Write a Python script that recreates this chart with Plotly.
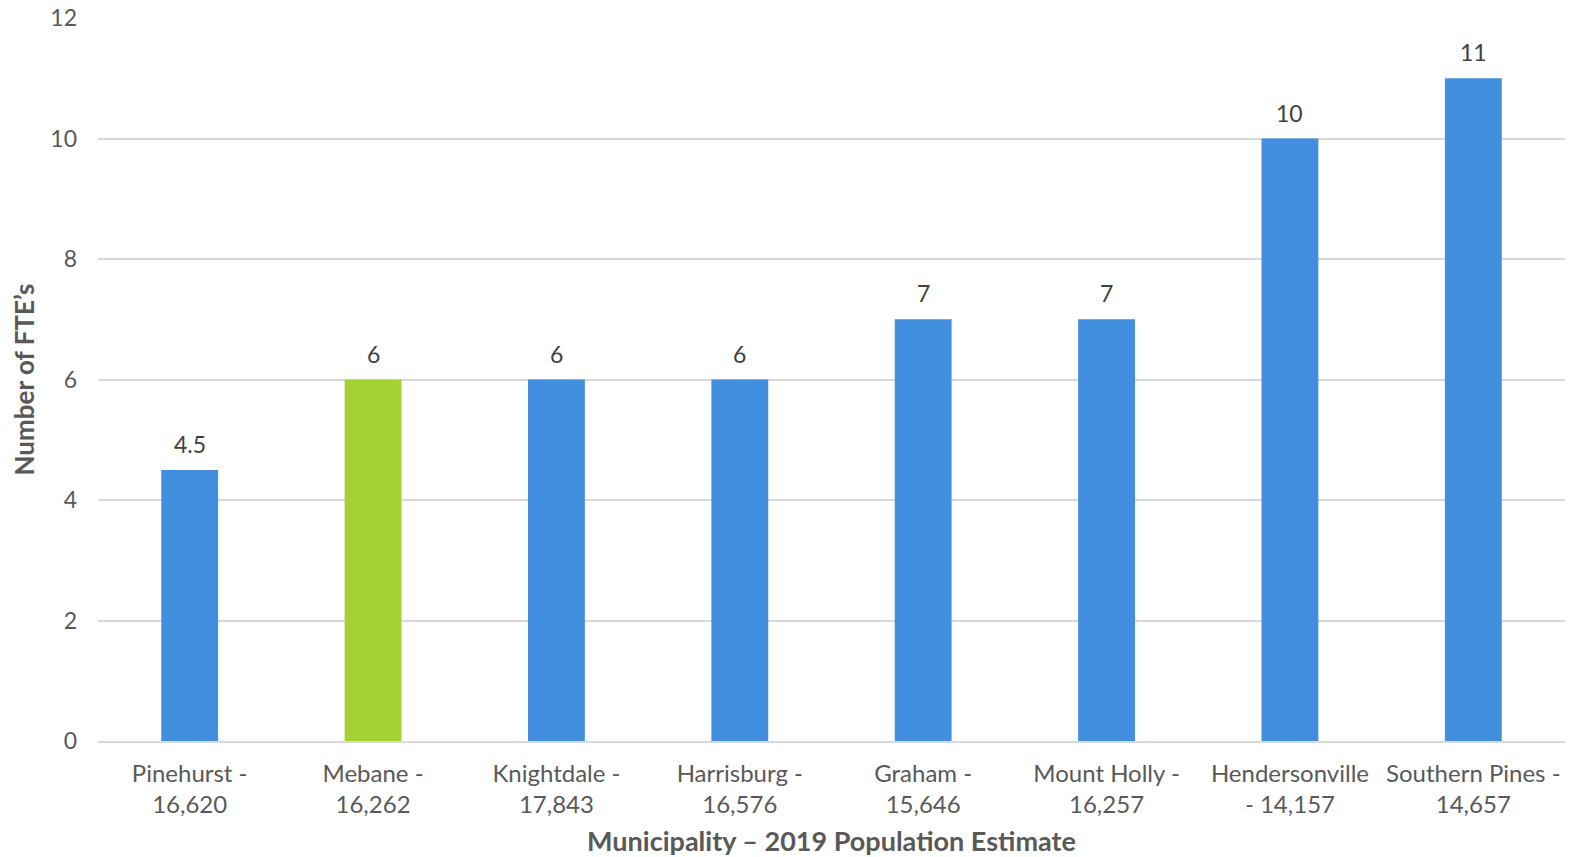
import plotly.graph_objects as go

# Municipalities with their 2019 population estimates and staffing levels
municipalities = ["Pinehurst -<br>16,620", "Mebane -<br>16,262", "Knightdale -<br>17,843",
                  "Harrisburg -<br>16,576", "Graham -<br>15,646", "Mount Holly -<br>16,257",
                  "Hendersonville<br>- 14,157", "Southern Pines -<br>14,657"]
fte_counts = [4.5, 6, 6, 6, 7, 7, 10, 11]
value_labels = ["4.5", "6", "6", "6", "7", "7", "10", "11"]
highlight = "Mebane -<br>16,262"

BLUE = "#418FDE"
GREEN = "#A5D233"
bar_colors = [GREEN if m == highlight else BLUE for m in municipalities]

FONT = "Lato, 'Open Sans', sans-serif"

fig = go.Figure(
    go.Bar(
        x=municipalities,
        y=fte_counts,
        marker=dict(color=bar_colors, line=dict(width=0)),
        hoverinfo="x+y",
    )
)

# Value labels sit above each bar
for m, v, t in zip(municipalities, fte_counts, value_labels):
    fig.add_annotation(
        x=m, y=v, text=t, showarrow=False, yanchor="bottom", yshift=10,
        font=dict(family=FONT, size=23, color="#404040"),
    )

fig.update_layout(
    width=1570,
    height=857,
    margin=dict(l=98, r=5, t=18, b=116, autoexpand=False),
    paper_bgcolor="white",
    plot_bgcolor="white",
    bargap=0.69,
    showlegend=False,
    font=dict(family=FONT, size=22, color="#595959"),
    xaxis=dict(
        automargin=False,
        showgrid=False,
        showline=True,
        linecolor="#d9d9d9",
        linewidth=2,
        ticks="",
        ticklabelstandoff=10,
        tickfont=dict(family=FONT, size=24, color="#595959"),
        title=dict(text="<b>Municipality – 2019 Population Estimate</b>",
                   font=dict(family=FONT, size=27, color="#595959"), standoff=18),
    ),
    yaxis=dict(
        automargin=False,
        range=[0, 12],
        dtick=2,
        showgrid=True,
        gridcolor="#d9d9d9",
        gridwidth=2,
        zeroline=False,
        showline=False,
        ticks="",
        ticklabelstandoff=20,
        tickfont=dict(family=FONT, size=23, color="#595959"),
        title=dict(text="<b>Number of FTE’s</b>",
                   font=dict(family=FONT, size=26, color="#595959"), standoff=8),
    ),
)

fig.write_html("out.html")
